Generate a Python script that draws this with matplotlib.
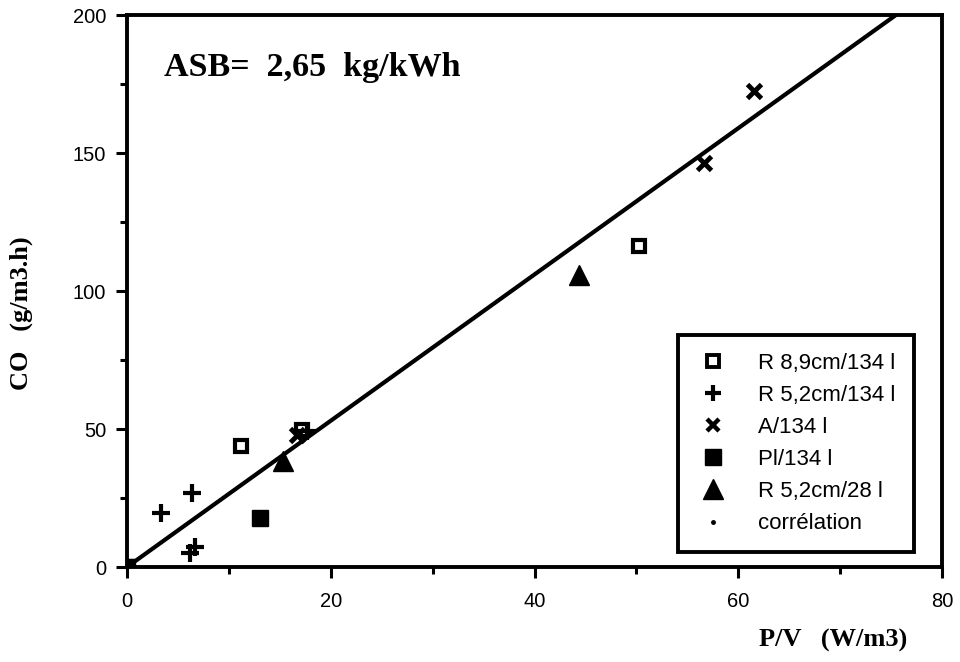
import matplotlib
matplotlib.use("Agg")
import matplotlib.pyplot as plt
from matplotlib.lines import Line2D
from matplotlib.ticker import MultipleLocator
import numpy as np

# data
sq_open_x = [0, 11.2, 17.2, 50.3]
sq_open_y = [0, 43.8, 49.6, 116.3]

plus_x = [3.3, 6.4, 6.2, 6.7, 17.7]
plus_y = [19.6, 26.8, 5.1, 7.2, 49.3]

cross_x = [16.7, 56.6, 61.5]
cross_y = [47.8, 146.4, 172.5]

sq_fill_x = [0, 13.1]
sq_fill_y = [0, 17.8]

tri_x = [15.3, 44.4]
tri_y = [38.3, 105.8]

ASB = 2.65
fit_x = np.array([0, 80])
fit_y = ASB * fit_x

labels = ['R 8,9cm/134 l', 'R 5,2cm/134 l', 'A/134 l', 'Pl/134 l',
          'R 5,2cm/28 l', 'corrélation']

sans = ['Liberation Sans', 'DejaVu Sans']
serif = ['Liberation Serif', 'DejaVu Serif']

fig = plt.figure(figsize=(9.6, 6.62), dpi=100)
ax = fig.add_axes([0.1323, 0.1435, 0.8490, 0.8338])

ax.plot(fit_x, fit_y, color='black', lw=3, solid_capstyle='round', zorder=2)
ax.plot(sq_open_x, sq_open_y, 's', ms=9, mfc='white', mec='black', mew=3, zorder=3)
ax.plot(plus_x, plus_y, '+', ms=13, mec='black', mew=3, zorder=3)
ax.plot(cross_x, cross_y, 'x', ms=10, mec='black', mew=3.5, zorder=3)
ax.plot(sq_fill_x, sq_fill_y, 's', ms=11, color='black', zorder=3)
ax.plot(tri_x, tri_y, '^', ms=15, color='black', zorder=3)

ax.set_xlim(0, 80)
ax.set_ylim(0, 200)
ax.xaxis.set_major_locator(MultipleLocator(20))
ax.xaxis.set_minor_locator(MultipleLocator(10))
ax.yaxis.set_major_locator(MultipleLocator(50))
ax.yaxis.set_minor_locator(MultipleLocator(25))
ax.tick_params(which='major', direction='out', length=8, width=2.2, labelsize=14.5)
ax.tick_params(axis='x', which='major', pad=10)
ax.tick_params(axis='y', which='major', pad=7)
ax.tick_params(which='minor', direction='out', length=5, width=2.2)
for lab in ax.get_xticklabels() + ax.get_yticklabels():
    lab.set_family(sans)
for s in ax.spines.values():
    s.set_linewidth(2.8)

ax.set_xlabel('P/V   (W/m3)', fontsize=19, fontweight='bold', family=serif)
ax.xaxis.set_label_coords(0.866, -0.112)
ax.set_ylabel('CO   (g/m3.h)', fontsize=19, fontweight='bold', family=serif)
ax.yaxis.set_label_coords(-0.115, 0.46)

ax.text(0.045, 0.905, 'ASB=  2,65  kg/kWh', transform=ax.transAxes,
        fontsize=24.5, fontweight='bold', family=serif, va='center')

handles = [
    Line2D([], [], ls='none', marker='s', ms=8, mfc='white', mec='black', mew=2.8),
    Line2D([], [], ls='none', marker='+', ms=11, mec='black', mew=3),
    Line2D([], [], ls='none', marker='x', ms=9, mec='black', mew=3.2),
    Line2D([], [], ls='none', marker='s', ms=11, color='black'),
    Line2D([], [], ls='none', marker='^', ms=15, color='black'),
    Line2D([], [], ls='none', marker='.', ms=5, color='black'),
]
leg = ax.legend(handles, labels, loc='lower right', bbox_to_anchor=(0.965, 0.027),
                frameon=True, fancybox=False, edgecolor='black', framealpha=1,
                prop={'family': sans, 'size': 16}, handlelength=1.5,
                handletextpad=1.3, labelspacing=0.5, borderpad=0.8,
                borderaxespad=0)
leg.get_frame().set_linewidth(2.8)

fig.savefig('out.png', dpi=100)
